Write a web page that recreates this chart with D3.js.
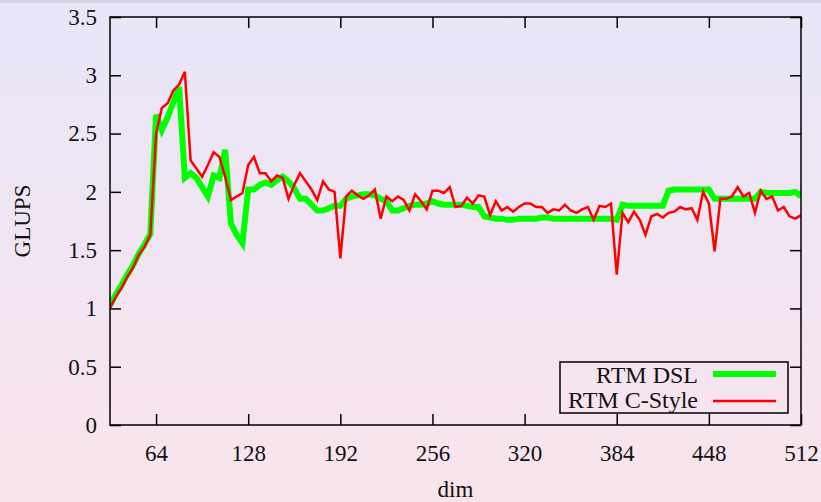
<!DOCTYPE html>
<meta charset="utf-8">

<!-- Load d3.js -->
<script src="https://d3js.org/d3.v7.min.js"></script>

<style>
  body { margin: 0; }
  svg { display: block; font-family: "Liberation Serif", "Times New Roman", serif; }
</style>

<svg id="my_dataviz" width="821" height="502"></svg>

<script>

// Data: problem size (dim) and throughput in GLUPS
var dims = [
   32,  36,  40,  44,  48,  52,  56,  60,  64,  68,  72,  76,  80,  84,  88,  92,
   96, 100, 104, 108, 112, 116, 120, 124, 128, 132, 136, 140, 144, 148, 152, 156,
  160, 164, 168, 172, 176, 180, 184, 188, 192, 196, 200, 204, 208, 212, 216, 220,
  224, 228, 232, 236, 240, 244, 248, 252, 256, 260, 264, 268, 272, 276, 280, 284,
  288, 292, 296, 300, 304, 308, 312, 316, 320, 324, 328, 332, 336, 340, 344, 348,
  352, 356, 360, 364, 368, 372, 376, 380, 384, 388, 392, 396, 400, 404, 408, 412,
  416, 420, 424, 428, 432, 436, 440, 444, 448, 452, 456, 460, 464, 468, 472, 476,
  480, 484, 488, 492, 496, 500, 504, 508, 512
];

var rtmDSL = [
  1.03, 1.12, 1.20, 1.29, 1.37, 1.47, 1.55, 1.64, 2.66, 2.53, 2.64, 2.77, 2.90, 2.12, 2.16, 2.12,
  2.04, 1.96, 2.14, 2.12, 2.36, 1.73, 1.63, 1.56, 2.02, 2.02, 2.06, 2.08, 2.06, 2.10, 2.13, 2.09,
  2.03, 1.94, 1.94, 1.89, 1.84, 1.84, 1.86, 1.88, 1.88, 1.94, 1.96, 1.97, 1.98, 1.98, 1.97, 1.94,
  1.92, 1.84, 1.84, 1.86, 1.88, 1.89, 1.89, 1.90, 1.92, 1.90, 1.89, 1.89, 1.89, 1.89, 1.88, 1.87,
  1.87, 1.79, 1.78, 1.77, 1.77, 1.76, 1.76, 1.77, 1.77, 1.77, 1.77, 1.78, 1.78, 1.77, 1.77, 1.77,
  1.77, 1.77, 1.77, 1.77, 1.77, 1.77, 1.77, 1.77, 1.76, 1.89, 1.88, 1.88, 1.88, 1.88, 1.88, 1.88,
  1.88, 2.01, 2.02, 2.02, 2.02, 2.02, 2.02, 2.02, 2.02, 1.94, 1.94, 1.94, 1.94, 1.94, 1.94, 1.94,
  1.94, 2.00, 1.99, 1.99, 1.99, 1.99, 1.99, 2.00, 1.96
];

var rtmCStyle = [
  1.00, 1.10, 1.175, 1.27, 1.35, 1.46, 1.53, 1.63, 2.50, 2.72, 2.76, 2.87, 2.92, 3.03, 2.27, 2.20,
  2.13, 2.23, 2.34, 2.30, 2.13, 1.93, 1.96, 1.99, 2.23, 2.30, 2.16, 2.16, 2.09, 2.14, 2.12, 1.94,
  2.06, 2.16, 2.09, 2.02, 1.93, 2.09, 2.02, 2.00, 1.43, 1.96, 2.01, 1.97, 1.94, 1.97, 2.02, 1.77,
  1.96, 1.92, 1.96, 1.93, 1.84, 1.98, 1.92, 1.85, 2.01, 2.01, 1.99, 2.04, 1.87, 1.88, 1.95, 1.90,
  1.97, 1.96, 1.80, 1.92, 1.84, 1.87, 1.83, 1.87, 1.90, 1.90, 1.87, 1.87, 1.82, 1.85, 1.84, 1.89,
  1.84, 1.82, 1.85, 1.87, 1.76, 1.88, 1.87, 1.90, 1.29, 1.82, 1.74, 1.83, 1.76, 1.63, 1.79, 1.81,
  1.78, 1.82, 1.83, 1.87, 1.85, 1.86, 1.76, 2.00, 1.90, 1.49, 1.94, 1.94, 1.96, 2.04, 1.96, 1.99,
  1.82, 2.01, 1.94, 1.96, 1.84, 1.87, 1.79, 1.77, 1.80
];

var xTicks = [64, 128, 192, 256, 320, 384, 448, 512];
var yTicks = [0, 0.5, 1, 1.5, 2, 2.5, 3, 3.5];

// The svg
var svg = d3.select("svg"),
  width = +svg.attr("width"),
  height = +svg.attr("height");

var margin = {left: 110, right: 20, top: 17, bottom: 77};
var plotW = width - margin.left - margin.right,
  plotH = height - margin.top - margin.bottom;

// background gradient (slide style)
var grad = svg.append("defs").append("linearGradient")
  .attr("id", "bg").attr("x1", 0).attr("y1", 0).attr("x2", 0).attr("y2", 1);
grad.append("stop").attr("offset", "0%").attr("stop-color", "#e8e6f8");
grad.append("stop").attr("offset", "100%").attr("stop-color", "#f9e4ec");

svg.append("rect").attr("width", width).attr("height", height).attr("fill", "url(#bg)");
svg.append("rect").attr("width", width).attr("height", 3).attr("fill", "#d6d4e2");

svg.append("clipPath").attr("id", "clip")
  .append("rect").attr("x", margin.left).attr("y", margin.top)
  .attr("width", plotW).attr("height", plotH);

// Scales
var x = d3.scaleLinear().domain([32, 512]).range([margin.left, margin.left + plotW]);
var y = d3.scaleLinear().domain([0, 3.5]).range([margin.top + plotH, margin.top]);

var tickLen = 11;
var fmt = function(d) { return String(d); };

// Axes: gnuplot style, ticks inward and mirrored
function styleAxis(g) {
  g.select(".domain").remove();
  g.attr("font-family", "Liberation Serif, serif").attr("font-size", 23);
}

svg.append("g")
  .attr("transform", "translate(0," + (margin.top + plotH) + ")")
  .call(d3.axisBottom(x).tickValues(xTicks).tickFormat(fmt).tickSizeInner(-tickLen).tickSizeOuter(0).tickPadding(20))
  .call(styleAxis);

svg.append("g")
  .attr("transform", "translate(0," + margin.top + ")")
  .call(d3.axisTop(x).tickValues(xTicks).tickSizeInner(-tickLen).tickSizeOuter(0).tickFormat(""))
  .call(styleAxis);

svg.append("g")
  .attr("transform", "translate(" + margin.left + ",0)")
  .call(d3.axisLeft(y).tickValues(yTicks).tickFormat(fmt).tickSizeInner(-tickLen).tickSizeOuter(0).tickPadding(13))
  .call(styleAxis);

svg.append("g")
  .attr("transform", "translate(" + (margin.left + plotW) + ",0)")
  .call(d3.axisRight(y).tickValues(yTicks).tickSizeInner(-tickLen).tickSizeOuter(0).tickFormat(""))
  .call(styleAxis);

svg.selectAll(".tick line").attr("stroke", "#000").attr("stroke-width", 1.5);
svg.selectAll(".tick text").attr("fill", "#111");

// Lines
var line = d3.line()
  .x(function(d) { return x(d[0]); })
  .y(function(d) { return y(d[1]); });

var plot = svg.append("g").attr("clip-path", "url(#clip)");

plot.append("path")
  .datum(d3.zip(dims, rtmDSL))
  .attr("fill", "none")
  .attr("stroke", "#00ff00")
  .attr("stroke-width", 6)
  .attr("stroke-linejoin", "miter")
  .attr("d", line);

plot.append("path")
  .datum(d3.zip(dims, rtmCStyle))
  .attr("fill", "none")
  .attr("stroke", "#ff0000")
  .attr("stroke-width", 2.5)
  .attr("d", line);

// Border
svg.append("rect")
  .attr("x", margin.left).attr("y", margin.top)
  .attr("width", plotW).attr("height", plotH)
  .attr("fill", "none").attr("stroke", "#000").attr("stroke-width", 1.5);

// Axis labels
svg.append("text")
  .attr("x", margin.left + plotW / 2).attr("y", 497)
  .attr("text-anchor", "middle")
  .style("font-size", "23px").attr("fill", "#111")
  .text("dim");

svg.append("text")
  .attr("transform", "translate(30," + (margin.top + plotH / 2) + ") rotate(-90)")
  .attr("text-anchor", "middle")
  .style("font-size", "23px").attr("fill", "#111")
  .text("GLUPS");

// Legend
var legend = svg.append("g");
legend.append("rect")
  .attr("x", 560).attr("y", 362).attr("width", 228).attr("height", 51)
  .attr("fill", "none").attr("stroke", "#000").attr("stroke-width", 1.5);

var legendItems = [
  {name: "RTM DSL", color: "#00ff00", w: 6},
  {name: "RTM C-Style", color: "#ff0000", w: 2.5}
];

legend.selectAll("text")
  .data(legendItems)
  .enter()
  .append("text")
    .attr("x", 698)
    .attr("y", function(d, i) { return 383 + i * 25; })
    .attr("text-anchor", "end")
    .style("font-size", "24px")
    .attr("fill", "#111")
    .text(function(d) { return d.name; });

legend.selectAll("line")
  .data(legendItems)
  .enter()
  .append("line")
    .attr("x1", 713).attr("x2", 776)
    .attr("y1", function(d, i) { return 374 + i * 27; })
    .attr("y2", function(d, i) { return 374 + i * 27; })
    .attr("stroke", function(d) { return d.color; })
    .attr("stroke-width", function(d) { return d.w; });

</script>
